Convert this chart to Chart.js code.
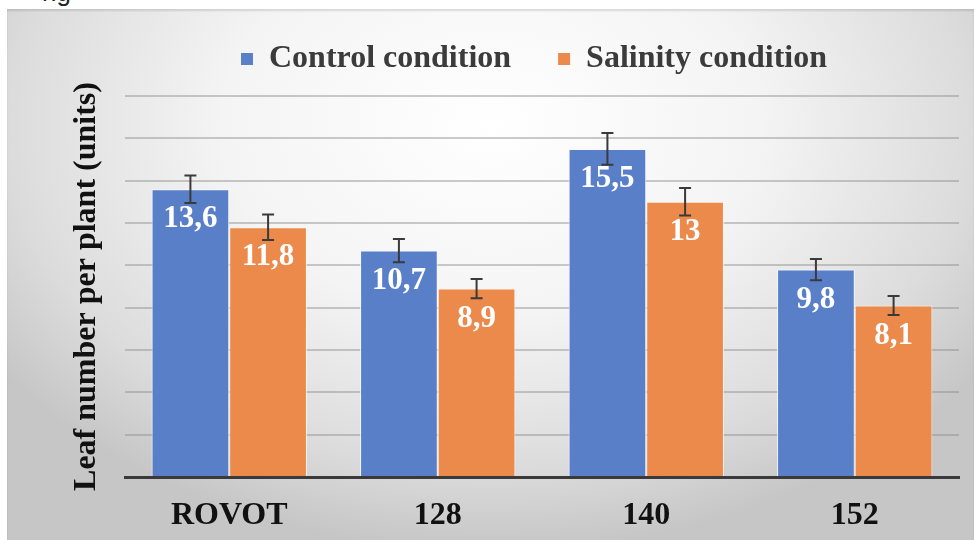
<!DOCTYPE html>
<html>
<head>
<meta charset="utf-8">
<script src="https://cdn.jsdelivr.net/npm/chart.js@4/dist/chart.umd.min.js"></script>
<style>
  html, body { margin: 0; padding: 0; background: #fff; width: 974px; height: 540px; overflow: hidden; }
  #cap { position: absolute; left: 42px; top: -23px; font: 26px "Liberation Sans", sans-serif; color: #222; }
  #frame {
    position: absolute; left: 7px; top: 9px; width: 967px; height: 531px;
    background: radial-gradient(ellipse 62% 80% at 50% 22%, #ffffff 0%, #f4f4f4 45%, #dcdcdc 80%, #c6c6c6 100%);
    box-shadow: inset 0 2px 2px rgba(0,0,0,0.12);
  }
</style>
</head>
<body>
<div id="cap">ng</div>
<div id="frame"><canvas id="leafChart"></canvas></div>
<script>
const categories = ["ROVOT", "128", "140", "152"];
const controlValues = [13.6, 10.7, 15.5, 9.8];
const salinityValues = [11.8, 8.9, 13, 8.1];
const controlErrors = [0.65, 0.55, 0.75, 0.5];
const salinityErrors = [0.6, 0.45, 0.65, 0.45];
const yMax = 18;
const yStep = 2;

const serif = '"Liberation Serif", "Times New Roman", serif';

// error bars + white value labels inside the bars
const barExtras = {
  id: "barExtras",
  afterDatasetsDraw(chart) {
    const { ctx } = chart;
    const y = chart.scales.y;
    chart.data.datasets.forEach((ds, i) => {
      chart.getDatasetMeta(i).data.forEach((bar, j) => {
        const v = ds.data[j];
        const e = ds.errors[j];
        ctx.save();
        ctx.font = `bold 31px ${serif}`;
        ctx.fillStyle = "#fff";
        ctx.textAlign = "center";
        ctx.textBaseline = "middle";
        ctx.fillText(String(v).replace(".", ","), bar.x, bar.y + 30);
        const hi = y.getPixelForValue(v + e);
        const lo = y.getPixelForValue(v - e);
        ctx.strokeStyle = "#3a3a3a";
        ctx.lineWidth = 2;
        ctx.beginPath();
        ctx.moveTo(bar.x, hi); ctx.lineTo(bar.x, lo);
        ctx.moveTo(bar.x - 6, hi); ctx.lineTo(bar.x + 6, hi);
        ctx.moveTo(bar.x - 6, lo); ctx.lineTo(bar.x + 6, lo);
        ctx.stroke();
        ctx.restore();
      });
    });
  }
};

// a bit more room under the legend
const legendGap = {
  id: "legendGap",
  beforeLayout(chart) {
    const lg = chart.legend;
    if (lg && !lg._padded) {
      const fit = lg.fit;
      lg.fit = function () { fit.call(this); this.height += 11; };
      lg._padded = true;
    }
  }
};

new Chart(document.getElementById("leafChart"), {
  type: "bar",
  data: {
    labels: categories,
    datasets: [
      { label: "Control condition", data: controlValues, errors: controlErrors, backgroundColor: "#5a7fc9", borderColor: "rgba(245,248,255,0.9)", borderWidth: 1 },
      { label: "Salinity condition", data: salinityValues, errors: salinityErrors, backgroundColor: "#eb8a4b", borderColor: "rgba(255,245,235,0.9)", borderWidth: 1 }
    ]
  },
  options: {
    responsive: true,
    maintainAspectRatio: false,
    animation: false,
    layout: { padding: { left: 57, right: 15, top: 11, bottom: 0 } },
    datasets: { bar: { barPercentage: 1, categoryPercentage: 0.745 } },
    plugins: {
      tooltip: { enabled: false },
      legend: {
        position: "top",
        fullSize: false,
        labels: {
          font: { family: serif, size: 32, weight: "bold" },
          color: "#3b3b3b",
          boxWidth: 12,
          boxHeight: 12,
          padding: 23,
          generateLabels(chart) {
            const items = Chart.defaults.plugins.legend.labels.generateLabels(chart);
            items[0].text += "   ";
            items[1].text += "  ";
            items.forEach(it => { it.lineWidth = 0; });
            return items;
          }
        }
      }
    },
    scales: {
      x: {
        grid: { display: false, drawTicks: false },
        border: { display: true, color: "#3a3a3a", width: 3, z: 1 },
        ticks: { color: "#111", padding: 20, font: { family: serif, size: 32, weight: "bold" } },
        afterFit(scale) { scale.height = 63; }
      },
      y: {
        min: 0,
        max: yMax,
        ticks: { display: false, stepSize: yStep },
        grid: { color: "rgba(140,140,140,0.45)", lineWidth: 2, drawTicks: false },
        border: { display: false },
        title: { display: true, text: "Leaf number per plant (units)", color: "#111", font: { family: serif, size: 32, weight: "bold" } },
        afterFit(scale) { scale.width = 61; }
      }
    }
  },
  plugins: [barExtras, legendGap]
});
</script>
</body>
</html>
